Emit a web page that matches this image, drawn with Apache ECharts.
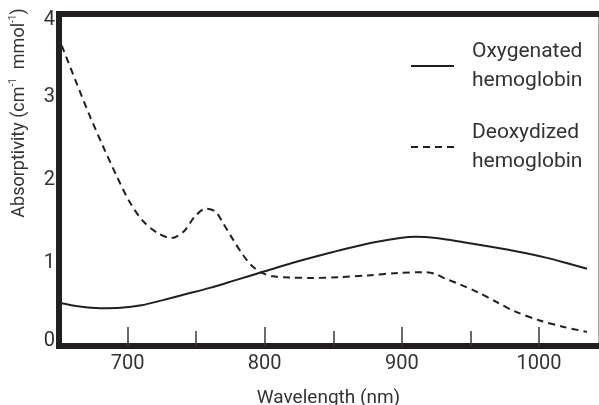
<!DOCTYPE html>
<html>
<head>
<meta charset="utf-8">
<script src="https://cdn.jsdelivr.net/npm/echarts@6/dist/echarts.min.js"></script>
<style>
html,body{margin:0;padding:0;background:#fff;}
#chart{width:599px;height:405px;}
</style>
</head>
<body>
<div id="chart"></div>
<script>
// Wavelength (nm) / absorptivity readings
const oxyWavelength = [650, 665, 680, 695, 710, 725, 740, 760, 780, 800, 820, 840, 860, 880, 900, 910, 925, 945, 965, 985, 1005, 1020, 1035];
const oxyValues     = [0.52, 0.475, 0.455, 0.46, 0.49, 0.55, 0.615, 0.70, 0.80, 0.90, 1.00, 1.09, 1.175, 1.25, 1.305, 1.315, 1.30, 1.25, 1.195, 1.135, 1.065, 1.00, 0.93];

const deoxyWavelength = [652, 662, 672, 682, 692, 701, 711, 722, 732, 741, 749, 757, 764, 770, 777, 784, 791, 798, 806, 818, 835, 855, 875, 897, 915, 924, 932, 942, 955, 969, 982, 1000, 1018, 1035];
const deoxyValues     = [3.62, 3.20, 2.79, 2.41, 2.05, 1.75, 1.51, 1.36, 1.30, 1.38, 1.56, 1.655, 1.62, 1.47, 1.28, 1.10, 0.96, 0.88, 0.84, 0.825, 0.82, 0.83, 0.85, 0.88, 0.89, 0.87, 0.81, 0.745, 0.65, 0.53, 0.42, 0.31, 0.23, 0.17];

const majorTicks = [700, 800, 900, 1000];
const minorTicks = [750, 850, 950];
const yTicks = [0, 1, 2, 3, 4];

const seriesNames = ['Oxygenated\nhemoglobin', 'Deoxydized\nhemoglobin'];
const xTitle = 'Wavelength (nm)';

const FONT = "Roboto, 'Liberation Sans', sans-serif";
const INK = '#231f20';
const TXT = '#333333';

const pairs = (xs, ys) => xs.map((x, i) => [x, ys[i]]);

const chart = echarts.init(document.getElementById('chart'));
const xMin = 650, xMax = 1043;
const yLabelFont = { fontFamily: FONT, fontSize: 20, color: TXT };

chart.setOption({
  animation: false,
  backgroundColor: '#ffffff',
  grid: { left: 59, right: 1, top: 14, bottom: 59, containLabel: false, outerBoundsMode: 'none' },
  legend: {
    left: 410,
    top: 37,
    padding: 0,
    orient: 'vertical',
    itemWidth: 43,
    itemHeight: 14,
    itemGap: 23,
    selectedMode: false,
    itemStyle: { opacity: 0 },
    textStyle: { fontFamily: FONT, fontSize: 21, color: TXT, lineHeight: 29, padding: [0, 0, 0, 13] },
    data: seriesNames
  },
  xAxis: [
    {
      type: 'value', min: xMin, max: xMax, position: 'bottom',
      name: xTitle, nameLocation: 'middle', nameGap: 43,
      nameTextStyle: { fontFamily: FONT, fontSize: 19, color: TXT },
      axisLine: { show: true, onZero: false, lineStyle: { color: INK, width: 6, cap: 'square' } },
      axisTick: { show: true, inside: true, length: 19, customValues: majorTicks, lineStyle: { color: '#3a3a3a', width: 1.5 } },
      axisLabel: { show: true, customValues: majorTicks, margin: 8, fontFamily: FONT, fontSize: 20, color: TXT, formatter: v => String(v) },
      splitLine: { show: false }
    },
    {
      type: 'value', min: xMin, max: xMax, position: 'bottom',
      axisLine: { show: false, onZero: false },
      axisTick: { show: true, inside: true, length: 15, customValues: minorTicks, lineStyle: { color: '#3a3a3a', width: 1.5 } },
      axisLabel: { show: false },
      splitLine: { show: false }
    },
    {
      type: 'value', min: xMin, max: xMax, position: 'top',
      axisLine: { show: true, onZero: false, lineStyle: { color: INK, width: 6, cap: 'square' } },
      axisTick: { show: false }, axisLabel: { show: false }, splitLine: { show: false }
    }
  ],
  yAxis: [
    {
      type: 'value', min: 0, max: 4, interval: 1, position: 'left',
      axisLine: { show: true, onZero: false, lineStyle: { color: INK, width: 6, cap: 'square' } },
      axisTick: { show: false },
      axisLabel: {
        show: true, margin: 4, customValues: yTicks,
        fontFamily: FONT, fontSize: 20, color: TXT,
        formatter: v => v === 4 ? '{t|4}' : (v === 0 ? '{b|0}' : '{n|' + v + '}'),
        rich: {
          t: Object.assign({ padding: [12, 0, 0, 0] }, yLabelFont),
          b: Object.assign({ padding: [0, 0, 10, 0] }, yLabelFont),
          n: Object.assign({}, yLabelFont)
        }
      },
      splitLine: { show: false }
    },
    {
      type: 'value', min: 0, max: 4, position: 'right',
      axisLine: { show: true, onZero: false, lineStyle: { color: '#aaaaaa', width: 1 } },
      axisTick: { show: false }, axisLabel: { show: false }, splitLine: { show: false }
    }
  ],
  graphic: [
    {
      type: 'text',
      x: 19, y: 113,
      rotation: Math.PI / 2,
      style: {
        text: '{a|Absorptivity (cm}{s|-1}{a|  mmol}{s|-1}{a|)}',
        align: 'center', verticalAlign: 'middle',
        fill: TXT,
        rich: {
          a: { fontFamily: FONT, fontSize: 18, lineHeight: 22, fill: TXT },
          s: { fontFamily: FONT, fontSize: 10, lineHeight: 22, verticalAlign: 'top', fill: TXT }
        }
      }
    }
  ],
  series: [
    {
      name: seriesNames[0], type: 'line', xAxisIndex: 0, yAxisIndex: 0,
      data: pairs(oxyWavelength, oxyValues),
      smooth: 0.3, symbol: 'none', showSymbol: false,
      lineStyle: { color: INK, width: 2 }, itemStyle: { color: INK }
    },
    {
      name: seriesNames[1], type: 'line', xAxisIndex: 0, yAxisIndex: 0,
      data: pairs(deoxyWavelength, deoxyValues),
      smooth: 0.3, symbol: 'none', showSymbol: false,
      lineStyle: { color: INK, width: 2, type: [7, 5] }, itemStyle: { color: INK }
    }
  ]
});
</script>
</body>
</html>
